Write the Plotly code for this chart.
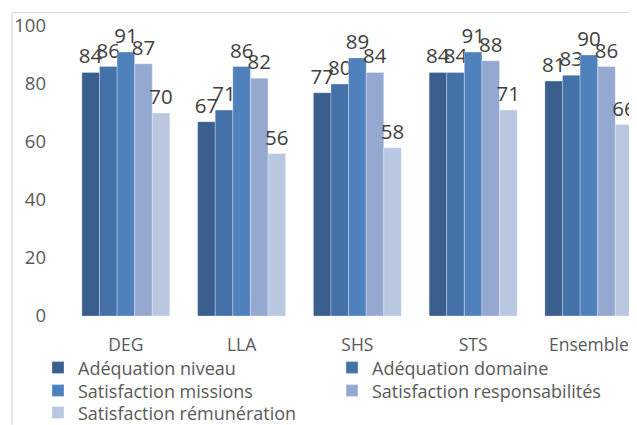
import plotly.graph_objects as go

# data
categories = ["DEG", "LLA", "SHS", "STS", "Ensemble"]
series_names = ["Adéquation niveau", "Adéquation domaine", "Satisfaction missions",
                "Satisfaction responsabilités", "Satisfaction rémunération"]
adequation_niveau = [84, 67, 77, 84, 81]
adequation_domaine = [86, 71, 80, 84, 83]
satisfaction_missions = [91, 86, 89, 91, 90]
satisfaction_responsabilites = [87, 82, 84, 88, 86]
satisfaction_remuneration = [70, 56, 58, 71, 66]
y_ticks = [0, 20, 40, 60, 80, 100]

colors = ["#3A5F8E", "#4471A7", "#4F81BD", "#95A9D0", "#B9C7E1"]
series_values = [adequation_niveau, adequation_domaine, satisfaction_missions,
                 satisfaction_responsabilites, satisfaction_remuneration]
# two legend entries per row, like the original
legend_rows = ["legend", "legend", "legend2", "legend2", "legend3"]

# the page body has an 8px margin, so the figure is drawn 8px in from the corner
W, H = 629, 417
ML, MR, MT, MB = 60, 0, 17.5, 109
FONT = "Open Sans"
pw = W - ML - MR
ph = H - MT - MB


def px_x(x):
    return (x - ML) / pw


def px_y(y):
    return (H - MB - y) / ph


fig = go.Figure()
for name, vals, col, lg in zip(series_names, series_values, colors, legend_rows):
    fig.add_trace(go.Bar(
        x=categories, y=vals, name=name, legend=lg,
        marker=dict(color=col, line=dict(color="rgba(255,255,255,0.5)", width=0.6)),
        text=vals, textposition="outside", constraintext="none", cliponaxis=False,
        textfont=dict(family=FONT, size=20.5, color="#404040"),
    ))

# chart-area border (only left and top edges are visible in the crop)
fig.add_shape(type="line", xref="paper", yref="paper", x0=px_x(4), x1=1.0,
              y0=px_y(4), y1=px_y(4), line=dict(color="#D9D9D9", width=1.2))
fig.add_shape(type="line", xref="paper", yref="paper", x0=px_x(4), x1=px_x(4),
              y0=px_y(4), y1=px_y(H), line=dict(color="#D9D9D9", width=1.2))

leg_common = dict(
    orientation="h", xref="paper", yref="paper",
    x=px_x(30), xanchor="left", yanchor="middle",
    entrywidth=249, entrywidthmode="pixels",
    font=dict(family=FONT, size=18, color="#595959"),
    itemclick=False, bgcolor="rgba(0,0,0,0)",
)

fig.update_layout(
    width=W, height=H,
    # fixed margins: the bottom legend row must not squeeze the plot
    margin=dict(l=ML, r=MR, t=MT, b=MB, pad=0, autoexpand=False),
    barmode="group", bargap=0.24, bargroupgap=0,
    plot_bgcolor="white", paper_bgcolor="white",
    font=dict(family=FONT, color="#595959"),
    showlegend=True,
    legend=dict(leg_common, y=px_y(360)),
    legend2=dict(leg_common, y=px_y(383)),
    legend3=dict(leg_common, y=px_y(405)),
    xaxis=dict(range=[-0.5, -0.5 + pw / 115.75], showgrid=False, showline=False,
               zeroline=False, ticks="", tickfont=dict(size=17.5, color="#595959"),
               ticklabelstandoff=16),
    yaxis=dict(range=[0, 100], tickvals=y_ticks, showgrid=False, showline=False,
               zeroline=False, ticks="", tickfont=dict(size=18.5, color="#595959"),
               ticklabelstandoff=21),
)

fig.write_html("out.html")
